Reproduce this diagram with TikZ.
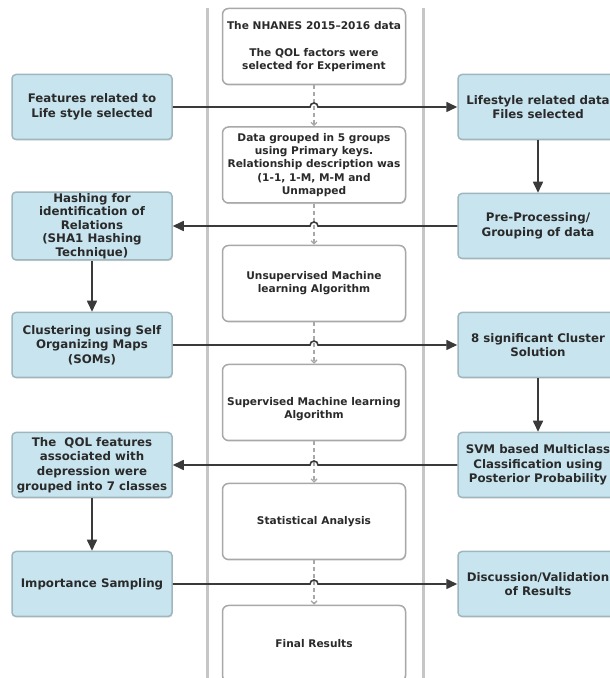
\documentclass[tikz,border=0pt]{standalone}
\usepackage{fontspec}
\setmainfont{DejaVu Sans}
\definecolor{FlowBlue}{HTML}{C8E5EF}
\definecolor{FlowEdge}{HTML}{9FB6BE}
\definecolor{FlowGray}{HTML}{A8A8A8}
\definecolor{FlowCol}{HTML}{C6C6C6}
\definecolor{FlowArrow}{HTML}{3A3A3A}
\definecolor{FlowText}{HTML}{2A2A2A}
\usetikzlibrary{arrows.meta, calc, shadows, positioning}

\begin{document}
\begin{tikzpicture}[x=1pt, y=1pt,
   boxfont/.style={text=FlowText, align=center, inner sep=1pt},
   sidebox/.style={boxfont, font=\bfseries\fontsize{11.8}{14.7}\selectfont,
      draw=FlowEdge, line width=1.5pt, fill=FlowBlue, rounded corners=4pt,
      minimum width=160pt, minimum height=65pt,
      drop shadow={shadow xshift=0.8pt, shadow yshift=-1.2pt, opacity=0.25}},
   midfont/.style={boxfont, font=\bfseries\fontsize{10.6}{13.2}\selectfont},
   midbox/.style={midfont,
      draw=FlowGray, line width=1.5pt, fill=white, rounded corners=6pt,
      minimum width=183pt, minimum height=76pt,
      drop shadow={shadow xshift=0.8pt, shadow yshift=-1.2pt, opacity=0.25}},
   link/.style={-{Triangle[length=11pt, width=10pt]}, FlowArrow, line width=1.6pt},
   flowdash/.style={FlowGray, line width=1.3pt, dash pattern=on 4pt off 3pt,
      -{Straight Barb[length=3pt, width=6pt]}}]
   \useasboundingbox (0,0) rectangle (610,678);
   \clip (0,0) rectangle (610,678);
   % Column rails
   \draw[FlowCol, line width=3pt] (207,0) -- (207,670);
   \draw[FlowCol, line width=3pt] (423,0) -- (423,670);
   % Middle column
   \node[midbox] (nhanes) at (314,631.5) {The NHANES 2015--2016 data\\[14pt]The QOL factors were\\selected for Experiment};
   \node[midbox] (grouped) at (314,513) {Data grouped in 5 groups\\using Primary keys.\\Relationship description was\\(1-1, 1-M, M-M and\\Unmapped};
   \node[midbox] (unsup) at (314,394.5) {Unsupervised Machine\\learning Algorithm};
   \node[midbox] (sup) at (314,275.5) {};
   \node[midfont] (suptext) at ([yshift=-7pt]sup.center) {Supervised Machine learning\\Algorithm};
   \node[midbox] (stats) at (314,156.5) {Statistical Analysis};
   \node[midbox] (final) at (314,34.5) {Final Results};
   % Left column
   \node[sidebox] (feat) at (92,571) {Features related to\\Life style selected};
   \node[sidebox, font=\bfseries\fontsize{11.8}{13.6}\selectfont] (hash) at (92,452) {Hashing for\\identification of\\Relations\\(SHA1 Hashing\\Technique)};
   \node[sidebox] (som) at (92,333) {Clustering using Self\\Organizing Maps\\(SOMs)};
   \node[sidebox] (qolcls) at (92,213) {The\ \ QOL features\\associated with\\depression were\\grouped into 7 classes};
   \node[sidebox] (sampling) at (92,94) {Importance Sampling};
   % Right column
   \node[sidebox] (files) at (538,571) {Lifestyle related data\\Files selected};
   \node[sidebox] (prep) at (538,452) {Pre-Processing/\\Grouping of data};
   \node[sidebox] (cluster) at (538,333) {8 significant Cluster\\Solution};
   \node[sidebox] (svm) at (538,213) {SVM based Multiclass\\Classification using\\Posterior Probability};
   \node[sidebox] (discuss) at (538,94) {Discussion/Validation\\of Results};
   % Dashed flow in the middle
   \draw[flowdash] (nhanes.south) -- (grouped.north);
   \draw[flowdash] (grouped.south) -- (unsup.north);
   \draw[flowdash] (unsup.south) -- (sup.north);
   \draw[flowdash] (sup.south) -- (stats.north);
   \draw[flowdash] (stats.south) -- (final.north);
   % Side arrows, hopping over the dashed line
   \draw[link] (feat.east) -- ([xshift=-4pt]feat.east -| nhanes.south)
      arc[start angle=180, end angle=0, radius=4pt] -- (files.west);
   \draw[link] (prep.west) -- ([xshift=4pt]prep.west -| nhanes.south)
      arc[start angle=0, end angle=180, radius=4pt] -- (hash.east);
   \draw[link] (som.east) -- ([xshift=-4pt]som.east -| nhanes.south)
      arc[start angle=180, end angle=0, radius=4pt] -- (cluster.west);
   \draw[link] (svm.west) -- ([xshift=4pt]svm.west -| nhanes.south)
      arc[start angle=0, end angle=180, radius=4pt] -- (qolcls.east);
   \draw[link] (sampling.east) -- ([xshift=-4pt]sampling.east -| nhanes.south)
      arc[start angle=180, end angle=0, radius=4pt] -- (discuss.west);
   % Down arrows
   \draw[link] (files.south) -- (prep.north);
   \draw[link] (hash.south) -- (som.north);
   \draw[link] (cluster.south) -- (svm.north);
   \draw[link] (qolcls.south) -- (sampling.north);
\end{tikzpicture}
\end{document}
